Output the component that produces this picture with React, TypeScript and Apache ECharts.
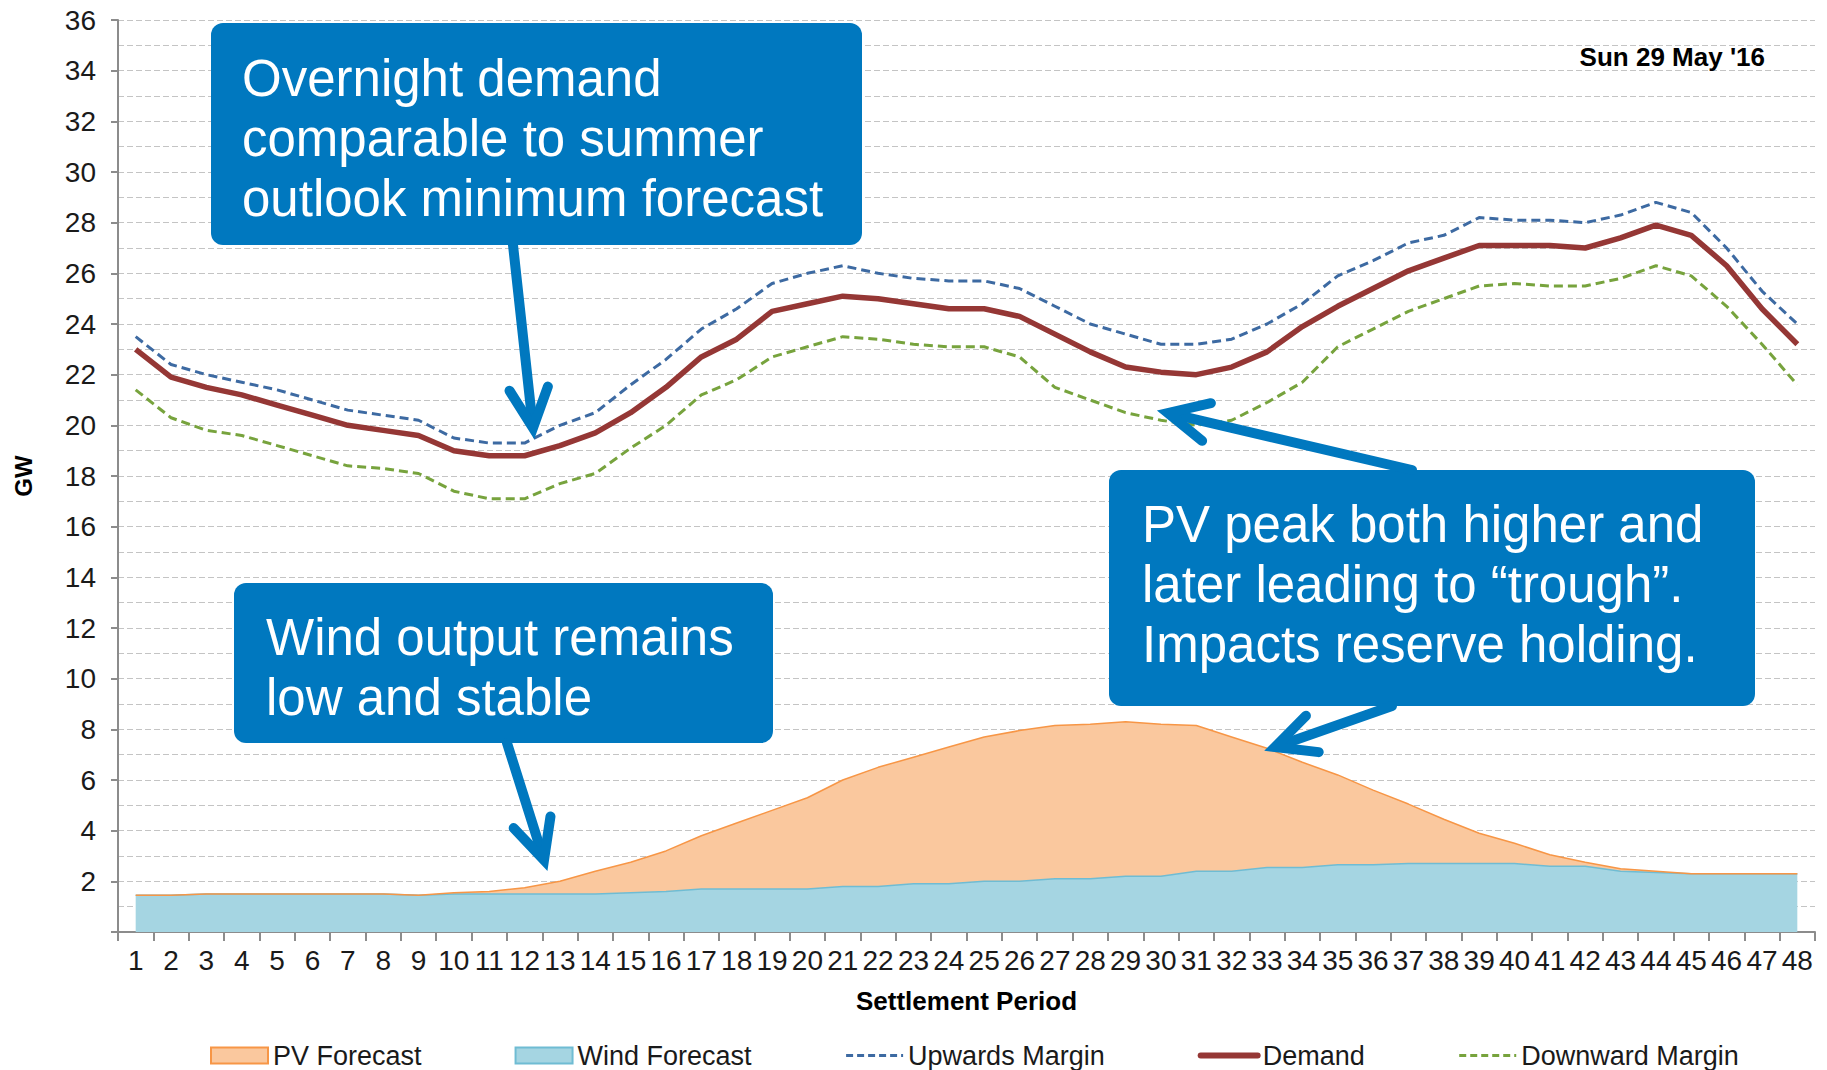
import React, { useEffect, useRef } from "react";
import * as echarts from "echarts";

const periods = [
  "1", "2", "3", "4", "5", "6", "7", "8", "9", "10", "11", "12",
  "13", "14", "15", "16", "17", "18", "19", "20", "21", "22", "23", "24",
  "25", "26", "27", "28", "29", "30", "31", "32", "33", "34", "35", "36",
  "37", "38", "39", "40", "41", "42", "43", "44", "45", "46", "47", "48",
];

const windForecast = [
  1.45, 1.45, 1.5, 1.5, 1.5, 1.5, 1.5, 1.5, 1.45, 1.5, 1.5, 1.5,
  1.5, 1.5, 1.55, 1.6, 1.7, 1.7, 1.7, 1.7, 1.8, 1.8, 1.9, 1.9,
  2.0, 2.0, 2.1, 2.1, 2.2, 2.2, 2.4, 2.4, 2.55, 2.55, 2.65, 2.65,
  2.7, 2.7, 2.7, 2.7, 2.6, 2.6, 2.4, 2.35, 2.3, 2.3, 2.3, 2.3,
];

const pvForecast = [
  0, 0, 0, 0, 0, 0, 0, 0, 0, 0.05, 0.1, 0.25,
  0.5, 0.9, 1.2, 1.6, 2.1, 2.6, 3.1, 3.6, 4.2, 4.7, 5.0, 5.4,
  5.7, 5.95, 6.05, 6.1, 6.1, 6.0, 5.75, 5.3, 4.7, 4.15, 3.55, 2.95,
  2.35, 1.75, 1.2, 0.8, 0.45, 0.15, 0.1, 0.05, 0, 0, 0, 0,
];

const upwardsMargin = [
  23.5, 22.4, 22.0, 21.7, 21.4, 21.0, 20.6, 20.4, 20.2, 19.5, 19.3, 19.3,
  20.0, 20.5, 21.6, 22.6, 23.8, 24.6, 25.6, 26.0, 26.3, 26.0, 25.8, 25.7,
  25.7, 25.4, 24.7, 24.0, 23.6, 23.2, 23.2, 23.4, 24.0, 24.8, 25.9, 26.5,
  27.2, 27.5, 28.2, 28.1, 28.1, 28.0, 28.3, 28.8, 28.4, 27.0, 25.3, 24.0,
];

const demand = [
  23.0, 21.9, 21.5, 21.2, 20.8, 20.4, 20.0, 19.8, 19.6, 19.0, 18.8, 18.8,
  19.2, 19.7, 20.5, 21.5, 22.7, 23.4, 24.5, 24.8, 25.1, 25.0, 24.8, 24.6,
  24.6, 24.3, 23.6, 22.9, 22.3, 22.1, 22.0, 22.3, 22.9, 23.9, 24.7, 25.4,
  26.1, 26.6, 27.1, 27.1, 27.1, 27.0, 27.4, 27.9, 27.5, 26.3, 24.6, 23.2,
];

const downwardMargin = [
  21.4, 20.3, 19.8, 19.6, 19.2, 18.8, 18.4, 18.3, 18.1, 17.4, 17.1, 17.1,
  17.7, 18.1, 19.1, 20.0, 21.2, 21.8, 22.7, 23.1, 23.5, 23.4, 23.2, 23.1,
  23.1, 22.7, 21.5, 21.0, 20.5, 20.2, 20.0, 20.2, 20.9, 21.7, 23.1, 23.8,
  24.5, 25.0, 25.5, 25.6, 25.5, 25.5, 25.8, 26.3, 25.9, 24.7, 23.2, 21.6,
];

const dateLabel = "Sun 29 May '16";
const note1 = "Overnight demand\ncomparable to summer\noutlook minimum forecast";
const note2 = "Wind output remains\nlow and stable";
const note3 = "PV peak both higher and\nlater leading to \u201ctrough\u201d.\nImpacts reserve holding.";

const FONT = '"Liberation Sans", Arial, Helvetica, sans-serif';
const BLUE = "#0078bf";
const AXIS = "#8c8c8c";
const GRID = "#c4c4c4";
const NO_SYMBOL = { color: "rgba(0,0,0,0)", borderColor: "rgba(0,0,0,0)", borderWidth: 0 };

function arrow(tail: number[], tip: number[], spread = 26, len = 44): any[] {
  const dx = tail[0] - tip[0];
  const dy = tail[1] - tip[1];
  const L = Math.hypot(dx, dy);
  const ux = dx / L;
  const uy = dy / L;
  const rot = (a: number) => {
    const c = Math.cos(a);
    const s = Math.sin(a);
    return [tip[0] + len * (ux * c - uy * s), tip[1] + len * (ux * s + uy * c)];
  };
  const r = (spread * Math.PI) / 180;
  return [
    {
      type: "line",
      z: 100,
      shape: { x1: tail[0], y1: tail[1], x2: tip[0] + ux * 4, y2: tip[1] + uy * 4 },
      style: { stroke: BLUE, lineWidth: 10, lineCap: "round" },
    },
    {
      type: "polyline",
      z: 100,
      shape: { points: [rot(r), tip, rot(-r)] },
      style: { stroke: BLUE, lineWidth: 10, lineCap: "round", lineJoin: "miter", fill: null },
    },
  ];
}

function box(x: number, y: number, w: number, h: number, tx: number, ty: number, text: string): any[] {
  return [
    {
      type: "rect",
      z: 100,
      shape: { x, y, width: w, height: h, r: 12 },
      style: { fill: BLUE },
    },
    {
      type: "text",
      z: 101,
      style: {
        x: tx,
        y: ty,
        text,
        fill: "#ffffff",
        fontFamily: FONT,
        fontSize: 51,
        lineHeight: 60,
        textAlign: "left",
        textVerticalAlign: "top",
      },
    },
  ];
}

export default function App() {
  const ref = useRef<HTMLDivElement>(null);

  useEffect(() => {
    if (!ref.current) return;
    const chart = echarts.init(ref.current, null, { renderer: "svg" });
    const labelStyle = { fontFamily: FONT, fontSize: 28, color: "#1a1a1a" };
    const option: any = {
      animation: false,
      backgroundColor: "#ffffff",
      grid: { left: 118, right: 12, top: 20, bottom: 138, containLabel: false },
      legend: {
        left: 205,
        top: 1037,
        itemWidth: 57,
        itemHeight: 16,
        itemGap: 93,
        textStyle: { fontFamily: FONT, fontSize: 27, color: "#1a1a1a" },
        data: [
          { name: "PV Forecast", icon: "rect", itemStyle: { color: "#fac89e", borderColor: "#f79646", borderWidth: 2 } },
          { name: "Wind Forecast", icon: "rect", itemStyle: { color: "#a5d5e2", borderColor: "#6fbcd3", borderWidth: 2 } },
          { name: "Upwards Margin", itemStyle: NO_SYMBOL, lineStyle: { width: 3, color: "#3d6aa2", type: [7, 4] } },
          { name: "Demand", itemStyle: NO_SYMBOL, lineStyle: { width: 6, color: "#953735", cap: "round" } },
          { name: "Downward Margin", itemStyle: NO_SYMBOL, lineStyle: { width: 3, color: "#77a33d", type: [7, 4] } },
        ],
      },
      xAxis: {
        type: "category",
        data: periods,
        boundaryGap: true,
        name: "Settlement Period",
        nameLocation: "middle",
        nameGap: 56,
        nameTextStyle: { fontFamily: FONT, fontSize: 26, fontWeight: "bold", color: "#000" },
        axisLine: { show: true, lineStyle: { color: AXIS, width: 2 } },
        axisTick: { show: true, interval: 0, length: 9, lineStyle: { color: AXIS, width: 2 } },
        axisLabel: { ...labelStyle, interval: 0, margin: 14 },
        splitLine: { show: false },
      },
      yAxis: {
        type: "value",
        min: 0,
        max: 36,
        interval: 2,
        name: "GW",
        nameLocation: "middle",
        nameRotate: 90,
        nameGap: 83,
        nameTextStyle: { fontFamily: FONT, fontSize: 24, fontWeight: "bold", color: "#000" },
        axisLine: { show: true, lineStyle: { color: AXIS, width: 2 } },
        axisTick: { show: true, length: 7, lineStyle: { color: AXIS, width: 2 } },
        axisLabel: { ...labelStyle, margin: 22, formatter: (v: number) => (v === 0 ? "" : String(v)) },
        splitLine: { show: true, lineStyle: { color: GRID, width: 1, type: [6, 3] } },
        minorTick: { show: false, splitNumber: 2 },
        minorSplitLine: { show: true, lineStyle: { color: GRID, width: 1, type: [6, 3] } },
      },
      series: [
        {
          name: "Wind Forecast",
          type: "line",
          stack: "gen",
          data: windForecast,
          symbol: "none",
          lineStyle: { color: "#6fbcd3", width: 1.5 },
          itemStyle: { color: "#a5d5e2" },
          areaStyle: { color: "#a5d5e2", opacity: 1 },
          z: 2,
        },
        {
          name: "PV Forecast",
          type: "line",
          stack: "gen",
          data: pvForecast,
          symbol: "none",
          lineStyle: { color: "#f79646", width: 1.5 },
          itemStyle: { color: "#fac89e" },
          areaStyle: { color: "#fac89e", opacity: 1 },
          z: 2,
        },
        {
          name: "Upwards Margin",
          type: "line",
          data: upwardsMargin,
          symbol: "none",
          lineStyle: { color: "#3d6aa2", width: 3, type: [9, 5] },
          itemStyle: { color: "#3d6aa2" },
          z: 3,
        },
        {
          name: "Demand",
          type: "line",
          data: demand,
          symbol: "none",
          lineStyle: { color: "#953735", width: 5.5 },
          itemStyle: { color: "#953735" },
          z: 4,
        },
        {
          name: "Downward Margin",
          type: "line",
          data: downwardMargin,
          symbol: "none",
          lineStyle: { color: "#77a33d", width: 3, type: [9, 5] },
          itemStyle: { color: "#77a33d" },
          z: 3,
        },
      ],
      graphic: [
        {
          type: "text",
          z: 50,
          style: {
            x: 1765,
            y: 57,
            text: dateLabel,
            fill: "#000",
            fontFamily: FONT,
            fontSize: 26,
            fontWeight: "bold",
            textAlign: "right",
            textVerticalAlign: "middle",
          },
        },
        ...box(211, 23, 651, 222, 242, 48, note1),
        ...box(234, 583, 539, 160, 266, 607, note2),
        ...box(1109, 470, 646, 236, 1142, 494, note3),
        ...arrow([513, 245], [533, 428]),
        ...arrow([507, 743], [544, 860]),
        ...arrow([1412, 470], [1168, 413]),
        ...arrow([1392, 706], [1275, 747]),
      ],
    };
    chart.setOption(option);
    return () => chart.dispose();
  }, []);

  return (
    <div
      ref={ref}
      style={{ position: "absolute", left: 0, top: 0, width: 1827, height: 1070, background: "#fff" }}
    />
  );
}
